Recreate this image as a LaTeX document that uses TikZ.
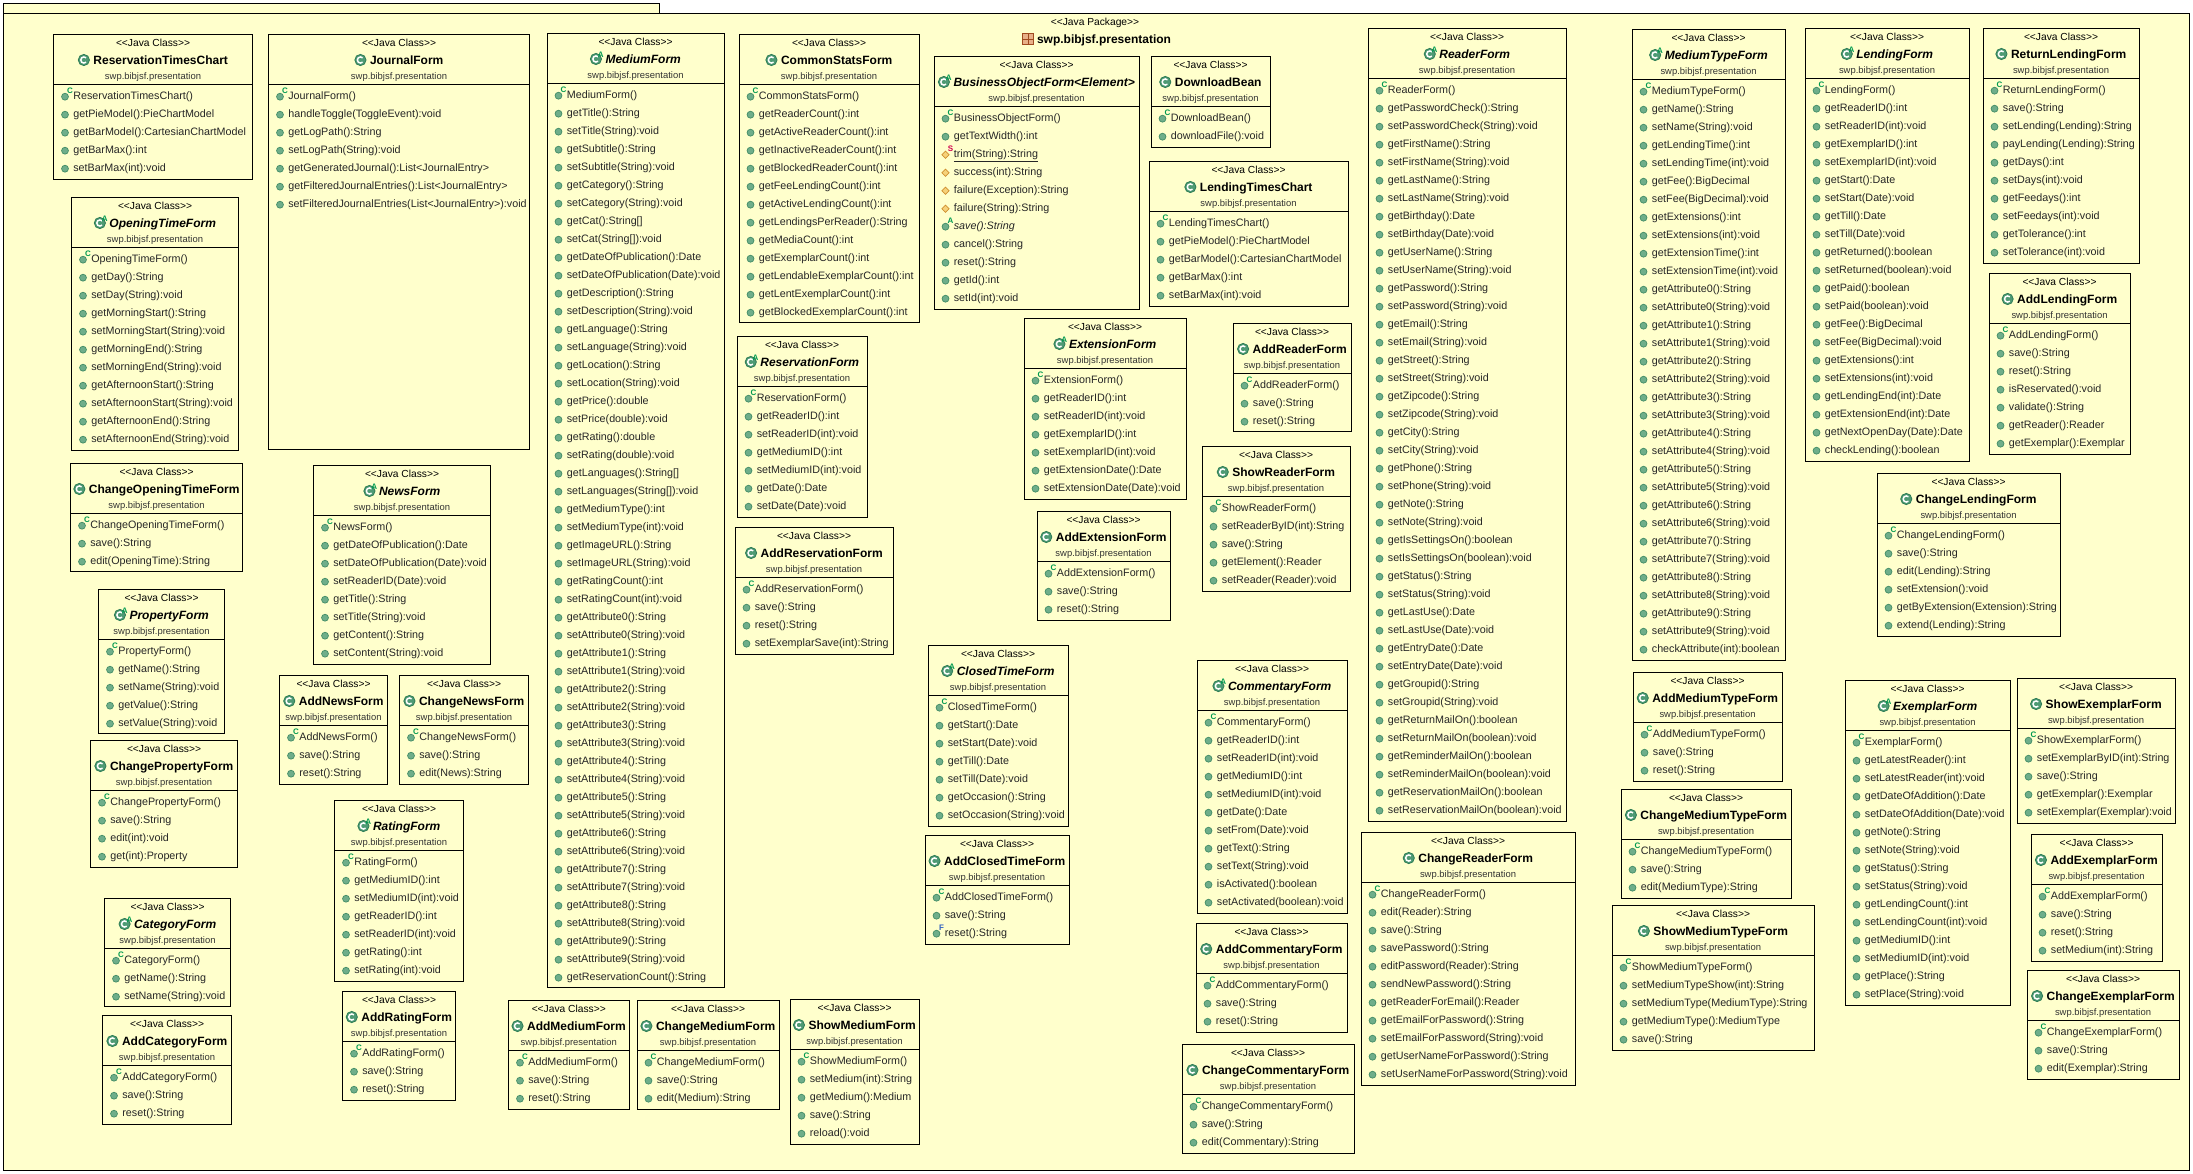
\documentclass[tikz,border=0pt]{standalone}
\usepackage{fontspec}
\setmainfont{Liberation Sans}
\definecolor{pkgfill}{HTML}{FFFFCC}
\definecolor{dotfill}{HTML}{6FAE8A}
\definecolor{dotline}{HTML}{3F8A64}
\definecolor{iconfill}{HTML}{4E9A74}
\definecolor{iconline}{HTML}{2E7D55}
\definecolor{markgreen}{HTML}{009A50}
\definecolor{markred}{HTML}{D0004F}
\definecolor{markblue}{HTML}{3060C0}
\definecolor{protfill}{HTML}{F6D27A}
\definecolor{protline}{HTML}{D09030}
\definecolor{pkgicon}{HTML}{E8B088}
\definecolor{pkgiconline}{HTML}{A04A20}
\tikzset{
  pkgbox/.style={draw=black,fill=pkgfill,line width=0.75pt},
  classbox/.style={draw=black,fill=pkgfill,line width=0.75pt,inner sep=0pt,outer sep=0pt,rectangle},
  classline/.style={draw=black,line width=0.75pt},
  stereotext/.style={anchor=base,inner sep=0pt,font=\fontsize{7.68pt}{9pt}\selectfont},
  pkgtext/.style={anchor=base,inner sep=0pt,text=black!80,font=\fontsize{7.08pt}{8pt}\selectfont},
  nametext/.style={anchor=base,inner sep=0pt,font=\fontsize{9pt}{10pt}\selectfont\bfseries},
  anametext/.style={anchor=base,inner sep=0pt,font=\fontsize{9pt}{10pt}\selectfont\bfseries\itshape},
  methodtext/.style={anchor=base west,inner sep=0pt,text=black!85,font=\fontsize{8.06pt}{9pt}\selectfont},
  marktext/.style={inner sep=0pt,font=\fontsize{6pt}{7pt}\selectfont\bfseries},
  pubdot/.style={draw=dotline,fill=dotfill,line width=0.5pt},
  protdot/.style={draw=protline,fill=protfill,line width=0.5pt},
  classicon/.style={draw=iconline,fill=iconfill,line width=0.6pt},
  iconletter/.style={draw=white,line width=1.1pt},
}
\def\kP{P}\def\kS{S}\def\kA{A}\def\kF{F}\def\kAbs{A}
\newcommand\stereoClass{<{}<Java Class>{}>}
\newcommand\clsbase[8]{%
  \pgfmathsetmacro\cx{(#4+#6)/2}%
  \node[classbox,minimum width={(#6-#4)*0.75pt},minimum height={(#7-#5)*0.75pt},anchor=north west] (#2) at (#4,#5) {};
  \draw[classline] ({#4},{#5+50}) -- ({#6},{#5+50});
  \node[stereotext] (#2-s) at (\cx,{#5+12.7}) {\stereoClass};
  \def\thekind{#1}%
  \ifx\thekind\kAbs
    \node[anametext] (#2-n) at ({\cx+7.7},{#5+30}) {#3};
  \else
    \node[nametext] (#2-n) at ({\cx+7.7},{#5+30}) {#3};
  \fi
  \coordinate (#2-i) at ([xshift=-7pt,yshift=3pt]#2-n.base west);
  \draw[classicon] (#2-i) circle (4.2pt);
  \draw[iconletter] (#2-i) ++(45:2.3pt) arc[start angle=45,end angle=315,radius=2.3pt];
  \ifx\thekind\kAbs
    \node[marktext,text=markgreen] (#2-a) at ([xshift=3.6pt,yshift=3pt]#2-i) {A};
  \fi
  \node[pkgtext] (#2-p) at (\cx,{#5+45.3}) {swp.bibjsf.presentation};
  \foreach \mk/\mt [count=\i from 0] in {#8}{
    \pgfmathsetmacro\rowy{#5+50+15.4+18*\i}
    \pgfmathsetmacro\doty{\rowy-2.7}
    \pgfmathsetmacro\dotx{#4+11.5}
    \ifx\mk\kP
      \draw[protdot] ({\dotx-3.6},{\doty}) -- ({\dotx},{\doty-3.6}) -- ({\dotx+3.6},{\doty}) -- ({\dotx},{\doty+3.6}) -- cycle;
    \else\ifx\mk\kS
      \draw[protdot] ({\dotx-3.6},{\doty}) -- ({\dotx},{\doty-3.6}) -- ({\dotx+3.6},{\doty}) -- ({\dotx},{\doty+3.6}) -- cycle;
    \else
      \draw[pubdot] (\dotx,\doty) circle (2.6pt);
    \fi\fi
    \ifx\mk\kS
      \node[methodtext] (#2-m\i) at ({#4+19.6},\rowy) {\underline{\mt}};
      \node[marktext,text=markred] (#2-k\i) at ({\dotx+5},{\doty-6}) {S};
    \else\ifx\mk\kA
      \node[methodtext,font=\fontsize{8.06pt}{9pt}\selectfont\itshape] (#2-m\i) at ({#4+19.6},\rowy) {\mt};
      \node[marktext,text=markgreen] (#2-k\i) at ({\dotx+5},{\doty-6}) {A};
    \else\ifx\mk\kF
      \node[methodtext] (#2-m\i) at ({#4+19.6},\rowy) {\mt};
      \node[marktext,text=markblue] (#2-k\i) at ({\dotx+5},{\doty-6}) {F};
    \else
      \node[methodtext] (#2-m\i) at ({#4+19.6},\rowy) {\mt};
      \ifnum\i=0
        \node[marktext,text=markgreen] (#2-k\i) at ({\dotx+5},{\doty-6}) {C};
      \fi
    \fi\fi\fi
  }
}
\newcommand\cls[6]{\clsbase{C}{#1}{#1}{#2}{#3}{#4}{#5}{#6}}
\newcommand\acls[6]{\clsbase{A}{#1}{#1}{#2}{#3}{#4}{#5}{#6}}
\begin{document}
\begin{tikzpicture}[x=0.75pt,y=-0.75pt]
\useasboundingbox (0,0) rectangle (2193,1174);
\fill[white] (0,0) rectangle (2193,1174);
\draw[pkgbox] (3.5,3.5) rectangle (659,13.5);
\draw[pkgbox] (3.5,13.5) rectangle (2189.5,1170);
\node[stereotext] (pkgS) at (1095,25.5) {<{}<Java Package>{}>};
\node[nametext] (pkgN) at (1104,43) {swp.bibjsf.presentation};
\coordinate (pkgI) at ([xshift=-6.4pt,yshift=3pt]pkgN.base west);
\draw[draw=pkgiconline,fill=pkgicon,line width=0.5pt] ([xshift=-4.2pt,yshift=-4.2pt]pkgI) rectangle ([xshift=4.2pt,yshift=4.2pt]pkgI);
\draw[draw=pkgiconline,line width=0.5pt] ([xshift=-4.2pt]pkgI) -- ([xshift=4.2pt]pkgI) ([yshift=-4.2pt]pkgI) -- ([yshift=4.2pt]pkgI);

\cls{ReservationTimesChart}{53.5}{34}{252.5}{179}{ReservationTimesChart(), getPieModel():PieChartModel, getBarModel():CartesianChartModel, getBarMax():int, setBarMax(int):void}
\cls{JournalForm}{268.5}{34}{529.5}{449}{JournalForm(), handleToggle(ToggleEvent):void, getLogPath():String, setLogPath(String):void, getGeneratedJournal():List<JournalEntry>, getFilteredJournalEntries():List<JournalEntry>, setFilteredJournalEntries(List<JournalEntry>):void}
\acls{OpeningTimeForm}{71.5}{197}{238.5}{450}{OpeningTimeForm(), getDay():String, setDay(String):void, getMorningStart():String, setMorningStart(String):void, getMorningEnd():String, setMorningEnd(String):void, getAfternoonStart():String, setAfternoonStart(String):void, getAfternoonEnd():String, setAfternoonEnd(String):void}
\cls{ChangeOpeningTimeForm}{70.5}{463}{242.5}{571}{ChangeOpeningTimeForm(), save():String, edit(OpeningTime):String}
\acls{NewsForm}{313.5}{465}{490.5}{664}{NewsForm(), getDateOfPublication():Date, setDateOfPublication(Date):void, setReaderID(Date):void, getTitle():String, setTitle(String):void, getContent():String, setContent(String):void}
\acls{PropertyForm}{98.5}{589}{224.5}{733}{PropertyForm(), getName():String, setName(String):void, getValue():String, setValue(String):void}
\cls{AddNewsForm}{279.5}{675}{387.5}{784}{AddNewsForm(), save():String, reset():String}
\cls{ChangeNewsForm}{399.5}{675}{528.5}{784}{ChangeNewsForm(), save():String, edit(News):String}
\cls{ChangePropertyForm}{90.5}{740}{237.5}{867}{ChangePropertyForm(), save():String, edit(int):void, get(int):Property}
\acls{CategoryForm}{104.5}{898}{230.5}{1006}{CategoryForm(), getName():String, setName(String):void}
\cls{AddCategoryForm}{102.5}{1015}{231.5}{1124}{AddCategoryForm(), save():String, reset():String}
\acls{RatingForm}{334.5}{800}{463.5}{981}{RatingForm(), getMediumID():int, setMediumID(int):void, getReaderID():int, setReaderID(int):void, getRating():int, setRating(int):void}
\cls{AddRatingForm}{342.5}{991}{455.5}{1100}{AddRatingForm(), save():String, reset():String}
\acls{MediumForm}{547}{33}{724}{987}{MediumForm(), getTitle():String, setTitle(String):void, getSubtitle():String, setSubtitle(String):void, getCategory():String, setCategory(String):void, getCat():String[], setCat(String[]):void, getDateOfPublication():Date, setDateOfPublication(Date):void, getDescription():String, setDescription(String):void, getLanguage():String, setLanguage(String):void, getLocation():String, setLocation(String):void, getPrice():double, setPrice(double):void, getRating():double, setRating(double):void, getLanguages():String[], setLanguages(String[]):void, getMediumType():int, setMediumType(int):void, getImageURL():String, setImageURL(String):void, getRatingCount():int, setRatingCount(int):void, getAttribute0():String, setAttribute0(String):void, getAttribute1():String, setAttribute1(String):void, getAttribute2():String, setAttribute2(String):void, getAttribute3():String, setAttribute3(String):void, getAttribute4():String, setAttribute4(String):void, getAttribute5():String, setAttribute5(String):void, getAttribute6():String, setAttribute6(String):void, getAttribute7():String, setAttribute7(String):void, getAttribute8():String, setAttribute8(String):void, getAttribute9():String, setAttribute9(String):void, getReservationCount():String}
\cls{AddMediumForm}{508.5}{1000}{629}{1109}{AddMediumForm(), save():String, reset():String}
\cls{ChangeMediumForm}{637}{1000}{779}{1109}{ChangeMediumForm(), save():String, edit(Medium):String}
\cls{ShowMediumForm}{790}{999}{919}{1144}{ShowMediumForm(), setMedium(int):String, getMedium():Medium, save():String, reload():void}
\cls{CommonStatsForm}{739}{34}{919}{322}{CommonStatsForm(), getReaderCount():int, getActiveReaderCount():int, getInactiveReaderCount():int, getBlockedReaderCount():int, getFeeLendingCount():int, getActiveLendingCount():int, getLendingsPerReader():String, getMediaCount():int, getExemplarCount():int, getLendableExemplarCount():int, getLentExemplarCount():int, getBlockedExemplarCount():int}
\acls{ReservationForm}{737}{336}{867}{517}{ReservationForm(), getReaderID():int, setReaderID(int):void, getMediumID():int, setMediumID(int):void, getDate():Date, setDate(Date):void}
\cls{AddReservationForm}{735}{527}{893}{654}{AddReservationForm(), save():String, reset():String, setExemplarSave(int):String}
\clsbase{A}{BusinessObjectForm}{BusinessObjectForm<Element>}{934}{56}{1139}{309}{BusinessObjectForm(), getTextWidth():int, S/trim(String):String, P/success(int):String, P/failure(Exception):String, P/failure(String):String, A/save():String, cancel():String, reset():String, getId():int, setId(int):void}
\cls{DownloadBean}{1151}{56}{1270}{147}{DownloadBean(), downloadFile():void}
\cls{LendingTimesChart}{1149}{161}{1348}{306}{LendingTimesChart(), getPieModel():PieChartModel, getBarModel():CartesianChartModel, getBarMax():int, setBarMax(int):void}
\acls{ExtensionForm}{1024}{318}{1186}{499}{ExtensionForm(), getReaderID():int, setReaderID(int):void, getExemplarID():int, setExemplarID(int):void, getExtensionDate():Date, setExtensionDate(Date):void}
\cls{AddReaderForm}{1233}{323}{1351}{431}{AddReaderForm(), save():String, reset():String}
\cls{ShowReaderForm}{1202}{446}{1350}{591}{ShowReaderForm(), setReaderByID(int):String, save():String, getElement():Reader, setReader(Reader):void}
\cls{AddExtensionForm}{1037}{511}{1170}{620}{AddExtensionForm(), save():String, reset():String}
\acls{ClosedTimeForm}{928}{645}{1068}{826}{ClosedTimeForm(), getStart():Date, setStart(Date):void, getTill():Date, setTill(Date):void, getOccasion():String, setOccasion(String):void}
\cls{AddClosedTimeForm}{925}{835}{1069}{944}{AddClosedTimeForm(), save():String, F/reset():String}
\acls{CommentaryForm}{1197}{660}{1347}{913}{CommentaryForm(), getReaderID():int, setReaderID(int):void, getMediumID():int, setMediumID(int):void, getDate():Date, setFrom(Date):void, getText():String, setText(String):void, isActivated():boolean, setActivated(boolean):void}
\cls{AddCommentaryForm}{1196}{923}{1347}{1032}{AddCommentaryForm(), save():String, reset():String}
\cls{ChangeCommentaryForm}{1182}{1044}{1354}{1153}{ChangeCommentaryForm(), save():String, edit(Commentary):String}
\acls{ReaderForm}{1368}{28}{1566}{821}{ReaderForm(), getPasswordCheck():String, setPasswordCheck(String):void, getFirstName():String, setFirstName(String):void, getLastName():String, setLastName(String):void, getBirthday():Date, setBirthday(Date):void, getUserName():String, setUserName(String):void, getPassword():String, setPassword(String):void, getEmail():String, setEmail(String):void, getStreet():String, setStreet(String):void, getZipcode():String, setZipcode(String):void, getCity():String, setCity(String):void, getPhone():String, setPhone(String):void, getNote():String, setNote(String):void, getIsSettingsOn():boolean, setIsSettingsOn(boolean):void, getStatus():String, setStatus(String):void, getLastUse():Date, setLastUse(Date):void, getEntryDate():Date, setEntryDate(Date):void, getGroupid():String, setGroupid(String):void, getReturnMailOn():boolean, setReturnMailOn(boolean):void, getReminderMailOn():boolean, setReminderMailOn(boolean):void, getReservationMailOn():boolean, setReservationMailOn(boolean):void}
\acls{MediumTypeForm}{1632}{29}{1785}{660}{MediumTypeForm(), getName():String, setName(String):void, getLendingTime():int, setLendingTime(int):void, getFee():BigDecimal, setFee(BigDecimal):void, getExtensions():int, setExtensions(int):void, getExtensionTime():int, setExtensionTime(int):void, getAttribute0():String, setAttribute0(String):void, getAttribute1():String, setAttribute1(String):void, getAttribute2():String, setAttribute2(String):void, getAttribute3():String, setAttribute3(String):void, getAttribute4():String, setAttribute4(String):void, getAttribute5():String, setAttribute5(String):void, getAttribute6():String, setAttribute6(String):void, getAttribute7():String, setAttribute7(String):void, getAttribute8():String, setAttribute8(String):void, getAttribute9():String, setAttribute9(String):void, checkAttribute(int):boolean}
\cls{ChangeReaderForm}{1361}{832}{1575}{1085}{ChangeReaderForm(), edit(Reader):String, save():String, savePassword():String, editPassword(Reader):String, sendNewPassword():String, getReaderForEmail():Reader, getEmailForPassword():String, setEmailForPassword(String):void, getUserNameForPassword():String, setUserNameForPassword(String):void}
\cls{AddMediumTypeForm}{1633}{672}{1782}{781}{AddMediumTypeForm(), save():String, reset():String}
\cls{ChangeMediumTypeForm}{1621}{789}{1791}{898}{ChangeMediumTypeForm(), save():String, edit(MediumType):String}
\cls{ShowMediumTypeForm}{1612}{905}{1814}{1050}{ShowMediumTypeForm(), setMediumTypeShow(int):String, setMediumType(MediumType):String, getMediumType():MediumType, save():String}
\acls{LendingForm}{1805}{28}{1969}{461}{LendingForm(), getReaderID():int, setReaderID(int):void, getExemplarID():int, setExemplarID(int):void, getStart():Date, setStart(Date):void, getTill():Date, setTill(Date):void, getReturned():boolean, setReturned(boolean):void, getPaid():boolean, setPaid(boolean):void, getFee():BigDecimal, setFee(BigDecimal):void, getExtensions():int, setExtensions(int):void, getLendingEnd(int):Date, getExtensionEnd(int):Date, getNextOpenDay(Date):Date, checkLending():boolean}
\cls{ReturnLendingForm}{1983}{28}{2139}{263}{ReturnLendingForm(), save():String, setLending(Lending):String, payLending(Lending):String, getDays():int, setDays(int):void, getFeedays():int, setFeedays(int):void, getTolerance():int, setTolerance(int):void}
\cls{AddLendingForm}{1989}{273}{2130}{454}{AddLendingForm(), save():String, reset():String, isReservated():void, validate():String, getReader():Reader, getExemplar():Exemplar}
\cls{ChangeLendingForm}{1877}{473}{2060}{636}{ChangeLendingForm(), save():String, edit(Lending):String, setExtension():void, getByExtension(Extension):String, extend(Lending):String}
\acls{ExemplarForm}{1845}{680}{2010}{1005}{ExemplarForm(), getLatestReader():int, setLatestReader(int):void, getDateOfAddition():Date, setDateOfAddition(Date):void, getNote():String, setNote(String):void, getStatus():String, setStatus(String):void, getLendingCount():int, setLendingCount(int):void, getMediumID():int, setMediumID(int):void, getPlace():String, setPlace(String):void}
\cls{ShowExemplarForm}{2017}{678}{2175}{823}{ShowExemplarForm(), setExemplarByID(int):String, save():String, getExemplar():Exemplar, setExemplar(Exemplar):void}
\cls{AddExemplarForm}{2031}{834}{2162}{961}{AddExemplarForm(), save():String, reset():String, setMedium(int):String}
\cls{ChangeExemplarForm}{2027}{970}{2179}{1079}{ChangeExemplarForm(), save():String, edit(Exemplar):String}
\end{tikzpicture}
\end{document}
